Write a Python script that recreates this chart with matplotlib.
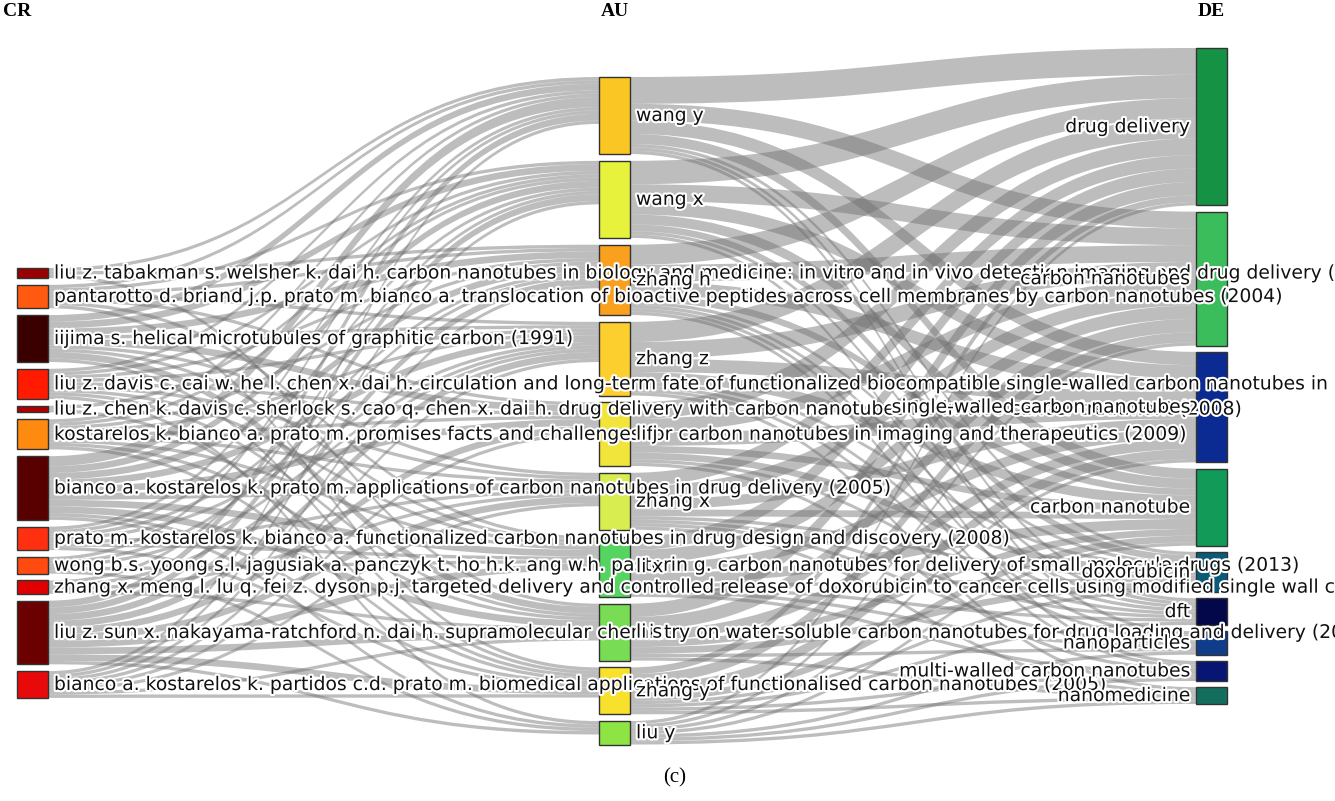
import numpy as np
import matplotlib.pyplot as plt
from matplotlib.path import Path
from matplotlib.patches import PathPatch, Rectangle
import matplotlib.patheffects as pe

# three-field plot: cited references (CR) -> authors (AU) -> keywords (DE)
cr_labels = [
    "liu z. tabakman s. welsher k. dai h. carbon nanotubes in biology and medicine: in vitro and in vivo detection imaging and drug delivery (2009)",
    "pantarotto d. briand j.p. prato m. bianco a. translocation of bioactive peptides across cell membranes by carbon nanotubes (2004)",
    "iijima s. helical microtubules of graphitic carbon (1991)",
    "liu z. davis c. cai w. he l. chen x. dai h. circulation and long-term fate of functionalized biocompatible single-walled carbon nanotubes in mice (2008)",
    "liu z. chen k. davis c. sherlock s. cao q. chen x. dai h. drug delivery with carbon nanotubes for in vivo cancer treatment (2008)",
    "kostarelos k. bianco a. prato m. promises facts and challenges for carbon nanotubes in imaging and therapeutics (2009)",
    "bianco a. kostarelos k. prato m. applications of carbon nanotubes in drug delivery (2005)",
    "prato m. kostarelos k. bianco a. functionalized carbon nanotubes in drug design and discovery (2008)",
    "wong b.s. yoong s.l. jagusiak a. panczyk t. ho h.k. ang w.h. pastorin g. carbon nanotubes for delivery of small molecule drugs (2013)",
    "zhang x. meng l. lu q. fei z. dyson p.j. targeted delivery and controlled release of doxorubicin to cancer cells using modified single wall carbon nanotubes (2009)",
    "liu z. sun x. nakayama-ratchford n. dai h. supramolecular chemistry on water-soluble carbon nanotubes for drug loading and delivery (2007)",
    "bianco a. kostarelos k. partidos c.d. prato m. biomedical applications of functionalised carbon nanotubes (2005)",
]
cr_colors = ['#990000', '#ff5a10', '#3a0000', '#ff1a00', '#b00000', '#ff8a10',
             '#580000', '#ff3010', '#ff4a10', '#e00000', '#6a0000', '#e80a0a']

au_labels = ["wang y", "wang x", "zhang h", "zhang z", "li j", "zhang x",
             "li x", "li s", "zhang y", "liu y"]
au_colors = ['#fac623', '#e6f23c', '#f9a11f', '#fccf2e', '#f1e53c', '#d8ee50',
             '#56d462', '#78dd54', '#f8e12c', '#8ee443']

de_labels = ["drug delivery", "carbon nanotubes", "single-walled carbon nanotubes",
             "carbon nanotube", "doxorubicin", "dft", "nanoparticles",
             "multi-walled carbon nanotubes", "nanomedicine"]
de_colors = ['#169244', '#3abd5a', '#0b2a92', '#129a58', '#0b5a78', '#03084a',
             '#0f3d8c', '#071672', '#146e5e']

# link weights, rows = source node, columns = target node
cr_au = np.array([
    [1, 0, 1, 0, 0, 0, 0, 1, 0, 0],
    [1, 1, 1, 1, 1, 0, 1, 0, 1, 0],
    [2, 2, 2, 1, 2, 1, 1, 2, 1, 0],
    [1, 1, 1, 1, 1, 1, 1, 1, 0, 1],
    [0, 1, 0, 0, 0, 0, 0, 0, 1, 0],
    [1, 1, 1, 1, 1, 1, 1, 1, 1, 0],
    [3, 2, 2, 2, 2, 2, 2, 2, 1, 1],
    [1, 1, 1, 1, 0, 1, 1, 0, 1, 0],
    [1, 0, 1, 1, 0, 0, 1, 0, 0, 1],
    [0, 1, 0, 1, 0, 1, 0, 1, 0, 0],
    [2, 2, 2, 2, 2, 2, 2, 2, 2, 1],
    [1, 1, 1, 1, 1, 1, 0, 1, 1, 0],
])
au_de = np.array([
    [8, 5, 4, 3, 1, 1, 1, 0, 0],
    [7, 5, 4, 3, 2, 1, 0, 1, 0],
    [6, 5, 4, 2, 1, 1, 1, 1, 0],
    [6, 5, 4, 3, 1, 1, 1, 0, 1],
    [5, 4, 4, 2, 2, 1, 0, 1, 0],
    [4, 4, 3, 2, 1, 1, 1, 0, 1],
    [4, 4, 3, 3, 1, 1, 1, 1, 0],
    [4, 4, 3, 2, 2, 0, 1, 0, 1],
    [2, 3, 3, 2, 1, 1, 0, 1, 1],
    [1, 1, 1, 1, 0, 0, 1, 1, 1],
])

cr_size = cr_au.sum(axis=1)
au_size = np.maximum(cr_au.sum(axis=0), au_de.sum(axis=1))
de_size = au_de.sum(axis=0)

fig = plt.figure(figsize=(13.35, 8.01), dpi=100)
ax = fig.add_axes([0, 0, 1, 1])
ax.set_xlim(0, 1335)
ax.set_ylim(801, 0)
ax.axis('off')

scale = 3.35
node_w = 31
col_x = [17, 599, 1196]


def layout(sizes, top, gap):
    tops = []
    y = top
    for s in sizes:
        tops.append(y)
        y += s * scale + gap
    return np.array(tops)


cr_top = layout(cr_size, 268, 6.8)
au_top = layout(au_size, 77, 6.8)
de_top = layout(de_size, 48, 6.2)


def band(x0, a0, b0, x1, a1, b1):
    xm = (x0 + x1) / 2
    verts = [(x0, a0), (xm, a0), (xm, a1), (x1, a1), (x1, b1),
             (xm, b1), (xm, b0), (x0, b0), (x0, a0)]
    codes = [Path.MOVETO, Path.CURVE4, Path.CURVE4, Path.CURVE4, Path.LINETO,
             Path.CURVE4, Path.CURVE4, Path.CURVE4, Path.CLOSEPOLY]
    ax.add_patch(PathPatch(Path(verts, codes), facecolor='#6e6e6e',
                           edgecolor='none', alpha=0.45, zorder=1))


def draw_links(mat, src_top, dst_top, x0, x1):
    out_off = np.zeros(mat.shape[0])
    in_off = np.zeros(mat.shape[1])
    for i in range(mat.shape[0]):
        for j in range(mat.shape[1]):
            v = mat[i, j]
            if v == 0:
                continue
            s0 = src_top[i] + out_off[i]
            d0 = dst_top[j] + in_off[j]
            h = v * scale
            band(x0, s0, s0 + h, x1, d0, d0 + h)
            out_off[i] += h
            in_off[j] += h


draw_links(cr_au, cr_top, au_top, col_x[0] + node_w, col_x[1])
draw_links(au_de, au_top, de_top, col_x[1] + node_w, col_x[2])

halo = [pe.withStroke(linewidth=3, foreground='white')]


def draw_nodes(x, tops, sizes, colors, labels, side):
    for t, s, c, lab in zip(tops, sizes, colors, labels):
        ax.add_patch(Rectangle((x, t), node_w, s * scale, facecolor=c,
                               edgecolor='#333333', linewidth=1, zorder=3))
        yc = t + s * scale / 2
        if side == 'right':
            ax.text(x + node_w + 6, yc, lab, ha='left', va='center',
                    fontsize=13.5, color='#111111', path_effects=halo, zorder=4)
        else:
            ax.text(x - 6, yc, lab, ha='right', va='center',
                    fontsize=13.5, color='#111111', path_effects=halo, zorder=4)


draw_nodes(col_x[0], cr_top, cr_size, cr_colors, cr_labels, 'right')
draw_nodes(col_x[1], au_top, au_size, au_colors, au_labels, 'right')
draw_nodes(col_x[2], de_top, de_size, de_colors, de_labels, 'left')

for x, name in zip(col_x, ["CR", "AU", "DE"]):
    ax.text(x + node_w / 2 if name != "CR" else x - 14, 12, name,
            ha='center' if name != "CR" else 'left', va='center',
            fontsize=14, fontweight='bold', family='Liberation Serif')

ax.text(675, 778, "(c)", ha='center', va='center', fontsize=15,
        family='Liberation Serif')

fig.savefig('out.png', dpi=100)
